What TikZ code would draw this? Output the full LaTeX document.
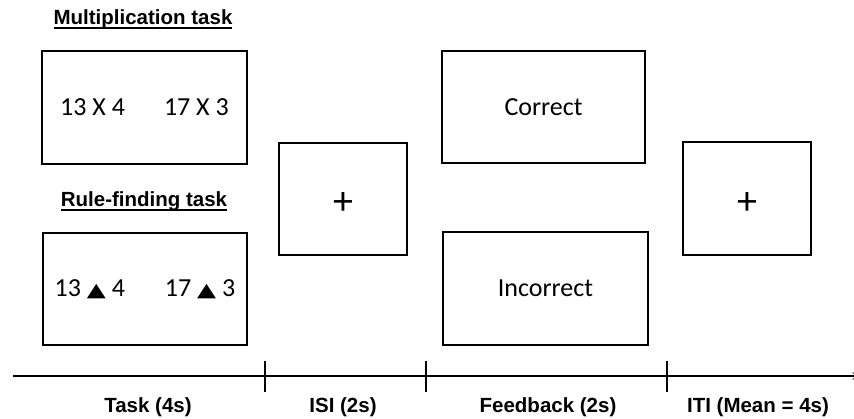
\documentclass[tikz,border=0pt]{standalone}
\usepackage{fontspec}
\usepackage{graphicx}
\setmainfont{Carlito}
\newfontfamily\headfont{Liberation Sans}
\newfontfamily\symfont{DejaVu Sans}
\newcommand\undr[1]{\setbox0\hbox{#1}\rlap{\vrule width \wd0 height -2pt depth 4pt}\box0}
\newcommand\tri{\scalebox{1.3}[1]{\symfont\fontsize{19}{19}\selectfont ▲}}
\newcommand\fix{\raisebox{-5pt}[\height][\depth]{+}}

\begin{document}
\begin{tikzpicture}[x=1pt, y=-1pt, >=stealth,
  box/.style={draw, rectangle, line width=2.7pt, inner sep=0pt, font=\fontsize{26}{30}\selectfont},
  head/.style={anchor=base, inner sep=0pt, font=\headfont\bfseries\fontsize{20.5}{24}\selectfont}]
  \useasboundingbox (0,0) rectangle (854,419);

  \node[head] (MH) at (143,25) {\undr{Multiplication task}};
  \node[head] (RH) at (144,207) {\undr{Rule-finding task}};

  \node[box, minimum width=205pt, minimum height=113pt] (MT) at (144.5,107.5) {13 X 4\hspace{39pt}17 X 3};
  \node[box, minimum width=204pt, minimum height=112pt] (RT) at (145,289) {13 \tri{} 4\hspace{40pt}17 \tri{} 3};
  \node[box, minimum width=128pt, minimum height=112pt, font=\fontsize{40}{40}\selectfont] (ISI) at (343,199) {\fix};
  \node[box, minimum width=203pt, minimum height=112pt] (FC) at (543.5,107) {Correct};
  \node[box, minimum width=205pt, minimum height=113pt] (FI) at (545.5,288.5) {Incorrect};
  \node[box, minimum width=128pt, minimum height=113pt, font=\fontsize{40}{40}\selectfont] (ITI) at (747,198.5) {\fix};

  % time line
  \coordinate (T0) at (13,376);
  \coordinate (T1) at (265,376);
  \coordinate (T2) at (426,376);
  \coordinate (T3) at (667,376);
  \coordinate (TE) at (860,376);
  \draw[->, line width=2.2pt] (T0) -- (TE);
  \foreach \t in {T1,T2,T3}
    \draw[line width=2.2pt] ([yshift=15pt]\t) -- ([yshift=-16pt]\t);

  \node[head] (LT) at (148,413) {Task (4s)};
  \node[head] (LI) at (343,413) {ISI (2s)};
  \node[head] (LF) at (548,413) {Feedback (2s)};
  \node[head] (LR) at (758,413) {ITI (Mean = 4s)};
\end{tikzpicture}
\end{document}
